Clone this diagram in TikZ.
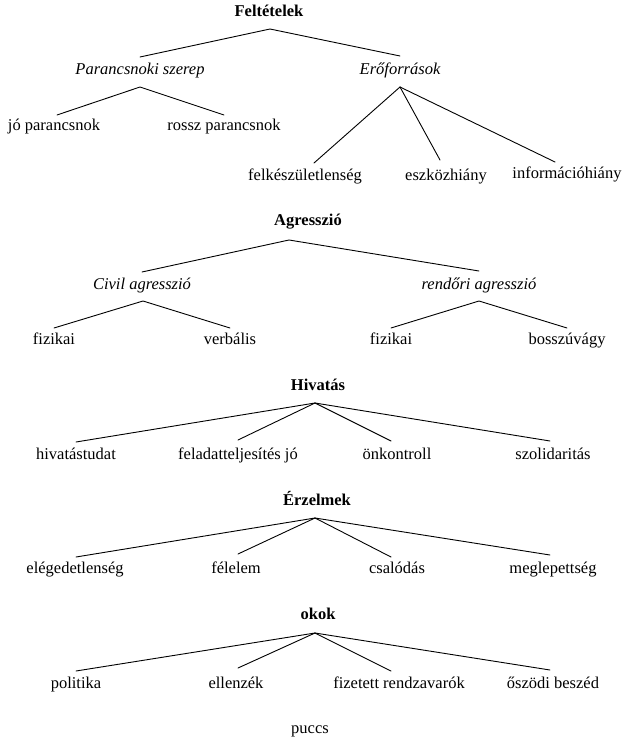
\documentclass[tikz,border=0pt]{standalone}
\usepackage{fontspec}
\setmainfont{Liberation Serif}
\begin{document}
\begin{tikzpicture}[x=1pt,y=-1pt,
  lbl/.style={inner sep=0pt, font=\fontsize{16.5}{20}\selectfont, text height=1.5ex, text depth=.25ex},
  hd/.style={lbl, font=\fontsize{16.5}{20}\selectfont\bfseries},
  itl/.style={lbl, font=\fontsize{16.5}{20}\selectfont\itshape},
  conn/.style={line width=0.9pt, line cap=round}]
\useasboundingbox (0,0) rectangle (624,741);

% ---------- Feltetelek ----------
\node[hd]  (F)    at (269,14)  {Feltételek};
\node[itl] (P)    at (140,72)  {Parancsnoki szerep};
\node[itl] (E)    at (400,72)  {Erőforrások};
\node[lbl] (jo)   at (54,128)  {jó parancsnok};
\node[lbl] (rossz) at (224,128) {rossz parancsnok};
\node[lbl] (felk) at (305,178) {felkészületlenség};
\node[lbl] (eszk) at (446,178) {eszközhiány};
\node[lbl] (info) at (567,176) {információhiány};

\coordinate (Fap) at (270,29);
\coordinate (Ptop) at (140,57);
\coordinate (Etop) at (400,56);
\coordinate (Pap) at (140,87);
\coordinate (jotop) at (57,115);
\coordinate (rossztop) at (224,115);
\coordinate (Eap) at (400,87);
\coordinate (felktop) at (314,163);
\coordinate (eszktop) at (440,160);
\coordinate (infotop) at (555,162);

\draw[conn] (Ptop) -- (Fap) -- (Etop);
\draw[conn] (jotop) -- (Pap) -- (rossztop);
\draw[conn] (Eap) -- (felktop);
\draw[conn] (Eap) -- (eszktop);
\draw[conn] (Eap) -- (infotop);

% ---------- Agresszio ----------
\node[hd]  (A)     at (308,223) {Agresszió};
\node[itl] (C)     at (142,287) {Civil agresszió};
\node[itl] (R)     at (479,287) {rendőri agresszió};
\node[lbl] (fiza)  at (54,342)  {fizikai};
\node[lbl] (verb)  at (230,342) {verbális};
\node[lbl] (fizb)  at (391,342) {fizikai};
\node[lbl] (bossz) at (567,342) {bosszúvágy};

\coordinate (Aap) at (289,240);
\coordinate (Ctop) at (142,272);
\coordinate (Rtop) at (479,271);
\coordinate (Cap) at (143,301);
\coordinate (fizatop) at (54,328);
\coordinate (verbtop) at (230,328);
\coordinate (Rap) at (479,301);
\coordinate (fizbtop) at (391,328);
\coordinate (bossztop) at (567,328);

\draw[conn] (Ctop) -- (Aap) -- (Rtop);
\draw[conn] (fizatop) -- (Cap) -- (verbtop);
\draw[conn] (fizbtop) -- (Rap) -- (bossztop);

% ---------- Hivatas ----------
\node[hd]  (H)  at (318,388) {Hivatás};
\node[lbl] (ha) at (76,457)  {hivatástudat};
\node[lbl] (hb) at (238,457) {feladatteljesítés jó};
\node[lbl] (hc) at (397,457) {önkontroll};
\node[lbl] (hd) at (553,457) {szolidaritás};

\coordinate (Hap) at (315,403);
\coordinate (hatop) at (76,442);
\coordinate (hbtop) at (238,440);
\coordinate (hctop) at (391,441);
\coordinate (hdtop) at (550,441);

\draw[conn] (Hap) -- (hatop);
\draw[conn] (Hap) -- (hbtop);
\draw[conn] (Hap) -- (hctop);
\draw[conn] (Hap) -- (hdtop);

% ---------- Erzelmek ----------
\node[hd]  (Z)  at (317,503) {Érzelmek};
\node[lbl] (za) at (75,571)  {elégedetlenség};
\node[lbl] (zb) at (236,571) {félelem};
\node[lbl] (zc) at (397,571) {csalódás};
\node[lbl] (zd) at (553,571) {meglepettség};

\coordinate (Zap) at (315,518);
\coordinate (zatop) at (76,557);
\coordinate (zbtop) at (238,554);
\coordinate (zctop) at (391,557);
\coordinate (zdtop) at (550,555);

\draw[conn] (Zap) -- (zatop);
\draw[conn] (Zap) -- (zbtop);
\draw[conn] (Zap) -- (zctop);
\draw[conn] (Zap) -- (zdtop);

% ---------- okok ----------
\node[hd]  (O)  at (318,617) {okok};
\node[lbl] (oa) at (76,686)  {politika};
\node[lbl] (ob) at (236,686) {ellenzék};
\node[lbl] (oc) at (399,686) {fizetett rendzavarók};
\node[lbl] (od) at (553,686) {őszödi beszéd};
\node[lbl] (puccs) at (310,731) {puccs};

\coordinate (Oap) at (315,633);
\coordinate (oatop) at (76,671);
\coordinate (obtop) at (238,668);
\coordinate (octop) at (391,671);
\coordinate (odtop) at (550,670);

\draw[conn] (Oap) -- (oatop);
\draw[conn] (Oap) -- (obtop);
\draw[conn] (Oap) -- (octop);
\draw[conn] (Oap) -- (odtop);
\end{tikzpicture}
\end{document}
